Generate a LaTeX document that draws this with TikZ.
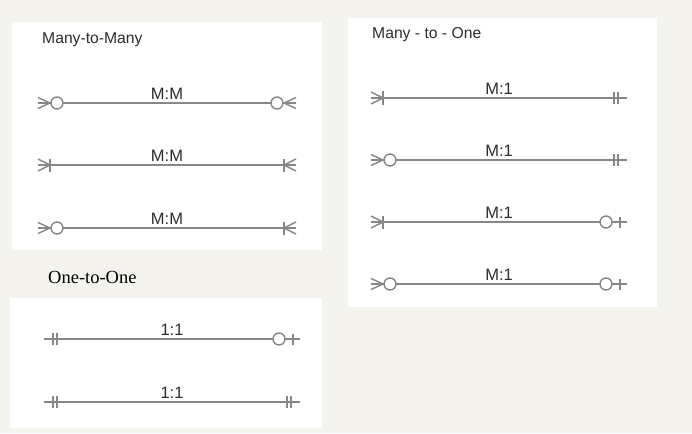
\documentclass[tikz,border=0pt]{standalone}
\usepackage{fontspec}
\setmainfont{Liberation Sans}
\newfontfamily\titleserif{Liberation Serif}
\definecolor{paper}{RGB}{245,243,238}
\definecolor{linegray}{RGB}{135,135,135}
\definecolor{ink}{RGB}{45,45,45}

\tikzset{
  rel/.style={draw=linegray, line width=1.1pt},
  wide/.style={line width=1.6pt},
  sym/.style={draw=linegray, line width=1.4pt},
  lbl/.style={above=3pt, inner sep=0pt, text=ink, font=\fontsize{16.5}{19}\selectfont},
  ttl/.style={anchor=base west, inner sep=0pt, text=ink, font=\fontsize{15.7}{18}\selectfont},
  panel/.style={fill=white, draw=none},
  % symbols drawn from the line end inwards (+x)
  crowzero/.pic={
    \draw[sym] (0,-5.5) -- (12,0) (0,5.5) -- (12,0) (0,0) -- (12,0);
    \draw[sym, fill=white] (19,0) circle[radius=6pt];
  },
  crowbar/.pic={
    \draw[sym] (0,-6) -- (12,0) (0,6) -- (12,0) (0,0) -- (12,0);
    \draw[sym] (12,-6.5) -- (12,6.5);
  },
  twobar/.pic={
    \draw[sym] (9,-6) -- (9,6) (13,-6) -- (13,6);
  },
  zerobar/.pic={
    \draw[sym] (7,-5.5) -- (7,5.5);
    \draw[sym, fill=white] (21,0) circle[radius=6pt];
  }
}

\begin{document}
\begin{tikzpicture}[x=1pt, y=-1pt]
\useasboundingbox[fill=paper] (0,0) rectangle (692,433);

% white panels
\path[panel] (12,22) rectangle (322,250);
\path[panel] (348,18) rectangle (657,307);
\path[panel] (10,298) rectangle (322,428);

% titles
\node[ttl] (mmtitle) at (42,44) {Many-to-Many};
\node[ttl] (motitle) at (372,39) {Many - to - One};
\node[ttl, text=black, font=\titleserif\fontsize{18.5}{21}\selectfont] (ootitle) at (48,283) {One-to-One};

% many to many
\coordinate (mm1l) at (38,103); \coordinate (mm1r) at (296,103);
\draw[rel, wide] (mm1l) -- node[lbl] (mm1) {M:M} (mm1r);
\pic at (mm1l) {crowzero}; \pic[xscale=-1] at (mm1r) {crowzero};

\coordinate (mm2l) at (38,165); \coordinate (mm2r) at (296,165);
\draw[rel] (mm2l) -- node[lbl] (mm2) {M:M} (mm2r);
\pic at (mm2l) {crowbar}; \pic[xscale=-1] at (mm2r) {crowbar};

\coordinate (mm3l) at (38,228); \coordinate (mm3r) at (296,228);
\draw[rel, wide] (mm3l) -- node[lbl] (mm3) {M:M} (mm3r);
\pic at (mm3l) {crowzero}; \pic[xscale=-1] at (mm3r) {crowbar};

% many to one
\coordinate (mo1l) at (371,98); \coordinate (mo1r) at (627,98);
\draw[rel] (mo1l) -- node[lbl] (mo1) {M:1} (mo1r);
\pic at (mo1l) {crowbar}; \pic[xscale=-1] at (mo1r) {twobar};

\coordinate (mo2l) at (371,160); \coordinate (mo2r) at (627,160);
\draw[rel] (mo2l) -- node[lbl] (mo2) {M:1} (mo2r);
\pic at (mo2l) {crowzero}; \pic[xscale=-1] at (mo2r) {twobar};

\coordinate (mo3l) at (371,222); \coordinate (mo3r) at (627,222);
\draw[rel] (mo3l) -- node[lbl] (mo3) {M:1} (mo3r);
\pic at (mo3l) {crowbar}; \pic[xscale=-1] at (mo3r) {zerobar};

\coordinate (mo4l) at (371,284); \coordinate (mo4r) at (627,284);
\draw[rel] (mo4l) -- node[lbl] (mo4) {M:1} (mo4r);
\pic at (mo4l) {crowzero}; \pic[xscale=-1] at (mo4r) {zerobar};

% one to one
\coordinate (oo1l) at (44,339); \coordinate (oo1r) at (300,339);
\draw[rel] (oo1l) -- node[lbl] (oo1) {1:1} (oo1r);
\pic at (oo1l) {twobar}; \pic[xscale=-1] at (oo1r) {zerobar};

\coordinate (oo2l) at (44,402); \coordinate (oo2r) at (300,402);
\draw[rel] (oo2l) -- node[lbl] (oo2) {1:1} (oo2r);
\pic at (oo2l) {twobar}; \pic[xscale=-1] at (oo2r) {twobar};
\end{tikzpicture}
\end{document}
